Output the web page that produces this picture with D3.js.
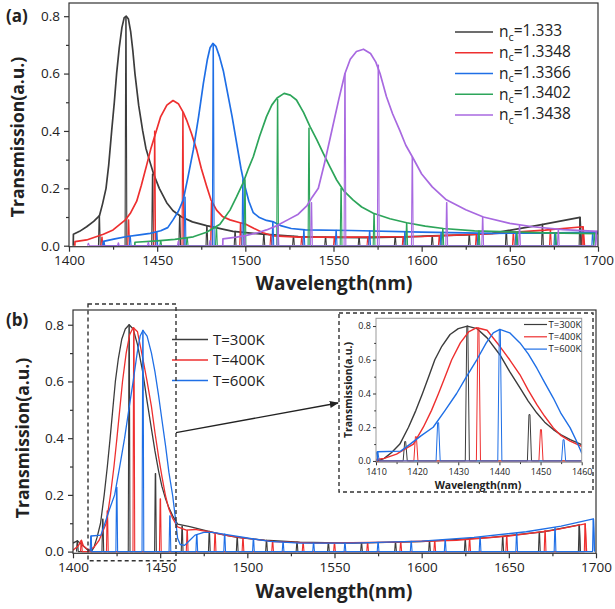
<!DOCTYPE html>
<html>
<head>
<meta charset="utf-8">
<script src="https://cdn.jsdelivr.net/npm/d3@7"></script>
<style>
  body { margin: 0; background: #fff; }
  svg text { font-family: "Open Sans", "Noto Sans", sans-serif; fill: #222; }
</style>
</head>
<body>
<svg id="chart" width="615" height="609"></svg>
<script>
// ---- panel (a) data: envelope [wavelength, T] and resonance spikes [wavelength, peak]
var nLabels = ["1.333", "1.3348", "1.3366", "1.3402", "1.3438"];
var colorsA = ["#3c3c3c", "#ee2f2f", "#1f6fe6", "#2da55a", "#a869e0"];

var envA1 = [[1402.4,0],[1402.5,0.04],[1406,0.05],[1410,0.066],[1414,0.085],[1417.3,0.105],[1419,0.145],[1421,0.2],[1422.5,0.28],[1424.2,0.4],[1425.7,0.5],[1427,0.6],[1428.5,0.69],[1430,0.76],[1431.3,0.795],[1432.5,0.8],[1433.7,0.79],[1435,0.745],[1436.2,0.68],[1437.4,0.6],[1439.5,0.49],[1441.8,0.4],[1443.6,0.34],[1445.5,0.3],[1448,0.25],[1451.2,0.2],[1455.4,0.15],[1459,0.122],[1463.9,0.1],[1470,0.083],[1478,0.07],[1493,0.05],[1510,0.04],[1530,0.032],[1550,0.029],[1570,0.028],[1590,0.031],[1610,0.035],[1625,0.038],[1640,0.043],[1665,0.07],[1689.8,0.099],[1690.6,0]];
var envA2 = [[1403.3,0],[1403.4,0.014],[1410,0.02],[1419.5,0.04],[1425,0.055],[1429,0.075],[1432,0.09],[1435,0.115],[1438.4,0.155],[1441,0.21],[1444,0.28],[1446.5,0.34],[1449.5,0.4],[1452,0.45],[1455.5,0.49],[1459,0.506],[1462,0.495],[1464.8,0.465],[1466.7,0.438],[1469.5,0.39],[1472.4,0.334],[1475,0.27],[1478.1,0.206],[1480.5,0.16],[1483.7,0.124],[1487,0.102],[1491.3,0.09],[1497,0.08],[1500,0.076],[1505,0.06],[1510,0.045],[1516,0.034],[1530,0.03],[1560,0.03],[1600,0.032],[1640,0.042],[1670,0.054],[1691.5,0.066],[1692.3,0]];
var envA3 = [[1419.3,0],[1419.5,0.015],[1426,0.024],[1433,0.032],[1440,0.038],[1446,0.043],[1452,0.052],[1456,0.063],[1459,0.09],[1462,0.12],[1464.8,0.16],[1467.5,0.24],[1470.5,0.334],[1473.5,0.45],[1476.2,0.566],[1478.5,0.65],[1480,0.69],[1481.6,0.705],[1483.3,0.695],[1485.3,0.66],[1487.5,0.61],[1490,0.53],[1492.5,0.45],[1495,0.36],[1497.5,0.27],[1499,0.225],[1502,0.155],[1504.5,0.115],[1508,0.098],[1512,0.088],[1516,0.083],[1520,0.07],[1526,0.06],[1534,0.055],[1560,0.053],[1600,0.047],[1640,0.043],[1670,0.044],[1700,0.047]];
var envA4 = [[1437.3,0],[1437.4,0.012],[1450,0.017],[1460,0.022],[1470.5,0.031],[1478,0.047],[1485.6,0.075],[1491.3,0.124],[1495,0.17],[1498.8,0.22],[1501.5,0.265],[1504.5,0.31],[1508,0.38],[1512,0.45],[1515,0.49],[1518,0.515],[1522,0.531],[1525.5,0.525],[1529,0.508],[1533,0.465],[1536.7,0.415],[1540.5,0.37],[1544.2,0.322],[1548,0.275],[1551.8,0.229],[1556,0.19],[1561.2,0.159],[1566,0.135],[1572.6,0.113],[1582,0.094],[1591.5,0.08],[1602,0.068],[1612.3,0.06],[1630,0.052],[1650,0.048],[1670,0.045],[1700,0.042]];
var envA5 = [[1487.2,0],[1487.3,0.024],[1495,0.03],[1500,0.035],[1507,0.045],[1512,0.055],[1518,0.07],[1524,0.09],[1530,0.11],[1535,0.14],[1538,0.17],[1541.4,0.2],[1545,0.29],[1549,0.4],[1553,0.51],[1556.5,0.6],[1559.5,0.65],[1563,0.677],[1567,0.685],[1571,0.67],[1574,0.64],[1576.4,0.6],[1580,0.52],[1583.5,0.46],[1587.7,0.4],[1591,0.35],[1594.7,0.31],[1600,0.25],[1606,0.205],[1614,0.16],[1625,0.125],[1635,0.1],[1650,0.078],[1663,0.066],[1680,0.056],[1700,0.05]];

var spkA1 = [[1417.2,0.105],[1432.3,0.8],[1447.4,0.25],[1462.8,0.104],[1478.2,0.07],[1494.2,0.05],[1510.5,0.04],[1527.3,0.033],[1545.5,0.029],[1564.5,0.028],[1585,0.03],[1606,0.034],[1627,0.039],[1648,0.053],[1668.5,0.075],[1689.8,0.099]];
var spkA2 = [[1418.7,0.03],[1433.8,0.09],[1448.6,0.4],[1464.6,0.465],[1480.8,0.15],[1497.3,0.08],[1514.5,0.035],[1532,0.03],[1550.5,0.03],[1569.5,0.03],[1589.5,0.031],[1610,0.034],[1631,0.038],[1652,0.045],[1673,0.055],[1691.5,0.066]];
var spkA3 = [[1419.8,0.015],[1434.7,0.033],[1449.8,0.047],[1465.8,0.17],[1481.8,0.705],[1498.6,0.23],[1515.6,0.083],[1533.2,0.055],[1551.5,0.054],[1570.5,0.052],[1590.5,0.049],[1611,0.046],[1632,0.044],[1653.5,0.043],[1675.5,0.044],[1697,0.047]];
var spkA4 = [[1452,0.017],[1467,0.028],[1483.6,0.065],[1499.8,0.23],[1518.3,0.51],[1536.1,0.41],[1554.3,0.2],[1573,0.112],[1591.5,0.08],[1612,0.06],[1632.5,0.052],[1654,0.047],[1676,0.044],[1698,0.042]];
var spkA5 = [[1411,0.008],[1428,0.01],[1445,0.012],[1462,0.015],[1480,0.018],[1499.5,0.035],[1518.5,0.07],[1537.5,0.15],[1556.5,0.6],[1575.4,0.63],[1594.7,0.31],[1614.2,0.15],[1634.6,0.1],[1655.5,0.07],[1677.5,0.056],[1699,0.05]];

// ---- panel (b) data
var tLabels = ["T=300K", "T=400K", "T=600K"];
var colorsB = ["#3c3c3c", "#ee2f2f", "#1f6fe6"];

var envB1 = [[1400,0.03],[1402.5,0.038],[1405,0.025],[1408,0.008],[1410.5,0],[1412,0.015],[1413.8,0.05],[1415.8,0.1],[1417.9,0.2],[1419.7,0.3],[1421.3,0.4],[1422.8,0.5],[1424.3,0.6],[1426,0.68],[1428,0.75],[1430,0.785],[1432.2,0.8],[1434.5,0.785],[1437,0.73],[1440.1,0.63],[1442.5,0.53],[1445,0.433],[1447,0.355],[1449.1,0.284],[1451,0.23],[1453.1,0.186],[1455,0.155],[1457.2,0.126],[1460,0.097],[1467,0.088],[1475,0.076],[1485,0.061],[1495,0.049],[1510,0.04],[1530,0.033],[1560,0.03],[1600,0.035],[1640,0.05],[1670,0.07],[1690.4,0.094],[1691,0]];
var envB2 = [[1400,0.005],[1403,0.02],[1404.8,0.04],[1406,0.02],[1409,0.005],[1412,0.015],[1415,0.04],[1417,0.07],[1419.1,0.1],[1421.5,0.2],[1423.5,0.3],[1425.2,0.4],[1426.8,0.5],[1428.4,0.6],[1430.5,0.7],[1432.5,0.765],[1434.5,0.79],[1437,0.775],[1440.1,0.68],[1442.5,0.6],[1445,0.511],[1447,0.42],[1449.1,0.334],[1451,0.265],[1453.1,0.196],[1455,0.15],[1457.2,0.117],[1460,0.087],[1465,0.076],[1470,0.078],[1478,0.07],[1490,0.055],[1500,0.047],[1515,0.035],[1540,0.03],[1580,0.033],[1620,0.04],[1650,0.055],[1675,0.075],[1693.8,0.098],[1694.6,0]];
var envB3 = [[1410.3,0],[1410.4,0.055],[1416,0.058],[1418.3,0.1],[1421,0.15],[1423.9,0.2],[1426.8,0.3],[1429.6,0.4],[1432,0.5],[1434.5,0.6],[1436.8,0.7],[1438.5,0.76],[1440.1,0.78],[1442.5,0.76],[1445,0.7],[1447,0.635],[1449.1,0.55],[1451,0.465],[1453.1,0.373],[1455,0.28],[1457.2,0.196],[1458.7,0.12],[1460,0.047],[1461.5,0.025],[1464,0.022],[1467,0.04],[1470,0.058],[1475,0.068],[1480,0.068],[1490,0.058],[1500,0.048],[1513,0.036],[1530,0.03],[1560,0.03],[1600,0.037],[1630,0.05],[1660,0.07],[1680,0.09],[1698.5,0.115],[1699.2,0]];

var spkB1 = [[1402.5,0.038],[1417.1,0.115],[1432.2,0.8],[1447.3,0.275],[1462.6,0.09],[1478.2,0.072],[1494.2,0.05],[1511,0.04],[1528.5,0.034],[1546.5,0.031],[1565.5,0.03],[1585,0.032],[1604.5,0.036],[1625,0.042],[1646.5,0.052],[1667.5,0.068],[1690.4,0.094]];
var spkB2 = [[1404.8,0.04],[1419.7,0.144],[1434.9,0.788],[1450.1,0.186],[1465.5,0.075],[1481.5,0.066],[1497.5,0.048],[1514.5,0.036],[1532,0.031],[1550,0.03],[1569,0.031],[1588,0.033],[1607.5,0.037],[1627.5,0.044],[1648.8,0.055],[1670.8,0.074],[1693.8,0.098]];
var spkB3 = [[1410.3,0.055],[1425.1,0.227],[1440.1,0.78],[1455.6,0.126],[1471,0.06],[1487,0.062],[1503.5,0.045],[1520.5,0.033],[1538,0.03],[1556,0.03],[1575,0.033],[1594,0.036],[1613.5,0.042],[1633.5,0.05],[1654.5,0.065],[1676.5,0.085],[1698.5,0.115]];

var xTicksMain = [1400, 1450, 1500, 1550, 1600, 1650, 1700];
var xMinorMain = [1425, 1475, 1525, 1575, 1625, 1675];
var yTicks = [0, 0.2, 0.4, 0.6, 0.8];
var yMinor = [0.1, 0.3, 0.5, 0.7];
var xTicksIns = [1410, 1420, 1430, 1440, 1450, 1460];
var xMinorIns = [1415, 1425, 1435, 1445, 1455];

var svg = d3.select('#chart');
svg.append('rect').attr('width', 615).attr('height', 609).attr('fill', '#fff');

function spikePts(spikes) {
  var pts = [];
  spikes.forEach(function(s) {
    pts.push([s[0] - 0.5, 0], [s[0] - 0.12, s[1]], [s[0] + 0.12, s[1]], [s[0] + 0.5, 0]);
  });
  return pts;
}

function drawPanel(o) {
  var x = o.x, y = o.y;
  var g = svg.append('g');
  var id = 'clip' + o.name;
  svg.append('clipPath').attr('id', id).append('rect')
    .attr('x', x.range()[0]).attr('y', y.range()[1])
    .attr('width', x.range()[1] - x.range()[0])
    .attr('height', y.range()[0] - y.range()[1]);
  var plot = g.append('g').attr('clip-path', 'url(#' + id + ')');
  var line = d3.line().x(function(d){ return x(d[0]); }).y(function(d){ return y(d[1]); });

  o.series.forEach(function(s) {
    plot.append('path').attr('d', line(spikePts(s.spk)))
      .attr('fill', 'none').attr('stroke', s.color).attr('stroke-width', o.spkW)
      .attr('stroke-linejoin', 'round');
    plot.append('path').attr('d', line(s.env))
      .attr('fill', 'none').attr('stroke', s.color).attr('stroke-width', o.envW)
      .attr('stroke-linejoin', 'round');
  });

  // frame
  g.append('rect').attr('x', x.range()[0]).attr('y', y.range()[1])
    .attr('width', x.range()[1] - x.range()[0])
    .attr('height', y.range()[0] - y.range()[1])
    .attr('fill', 'none').attr('stroke', o.frame).attr('stroke-width', o.frameW);

  g.append('g').attr('transform', 'translate(0,' + y.range()[0] + ')')
    .call(d3.axisBottom(x).tickValues(o.xt).tickSize(o.tk).tickPadding(o.xpad).tickFormat(d3.format('d')));
  g.append('g').attr('transform', 'translate(0,' + y.range()[0] + ')')
    .call(d3.axisBottom(x).tickValues(o.xm).tickSize(o.tk * 0.6).tickFormat(''));
  g.append('g').attr('transform', 'translate(' + x.range()[0] + ',0)')
    .call(d3.axisLeft(y).tickValues(yTicks).tickSize(o.tk).tickPadding(o.pad).tickFormat(d3.format('.1f')));
  g.append('g').attr('transform', 'translate(' + x.range()[0] + ',0)')
    .call(d3.axisLeft(y).tickValues(yMinor).tickSize(o.tk * 0.6).tickFormat(''));
  g.selectAll('.domain').remove();
  g.selectAll('.tick line').attr('stroke', '#333').attr('stroke-width', o.frameW);
  g.selectAll('.tick text').style('font-size', o.fs + 'px').attr('fill', '#333');
  return g;
}

function legend(items, x0, x1, tx, y0, dy, fs, sw, sub) {
  var lg = svg.append('g');
  items.forEach(function(it, i) {
    var yy = y0 + i * dy;
    lg.append('line').attr('x1', x0).attr('x2', x1).attr('y1', yy).attr('y2', yy)
      .attr('stroke', it.color).attr('stroke-width', sw);
    var t = lg.append('text').attr('x', tx).attr('y', yy).attr('dy', '0.35em')
      .style('font-size', fs + 'px');
    if (sub) {
      t.append('tspan').text('n');
      t.append('tspan').text('c').attr('dy', '0.3em').style('font-size', (fs * 0.7) + 'px');
      t.append('tspan').text('=' + it.label).attr('dy', '-0.3em');
    } else {
      t.text(it.label);
    }
  });
}

// ---- panel (a)
var xA = d3.scaleLinear().domain([1400, 1700]).range([69, 598]);
var yA = d3.scaleLinear().domain([-0.0035, 0.846]).range([246.7, 3]);
var envA = [envA1, envA2, envA3, envA4, envA5];
var spkA = [spkA1, spkA2, spkA3, spkA4, spkA5];
drawPanel({
  name: 'a', x: xA, y: yA, xt: xTicksMain, xm: xMinorMain, tk: 5, pad: 4, xpad: 4, fs: 13.5,
  frame: '#333', frameW: 1.2, envW: 1.7, spkW: 1.1,
  series: envA.map(function(e, i){ return {env: e, spk: spkA[i], color: colorsA[i]}; })
});
legend(nLabels.map(function(l, i){ return {label: l, color: colorsA[i]}; }),
  455, 493, 499, 32, 20.75, 15.5, 1.5, true);

// ---- panel (b)
var xB = d3.scaleLinear().domain([1400, 1700]).range([73, 596]);
var yB = d3.scaleLinear().domain([-0.006, 0.852]).range([553.3, 310]);
var envB = [envB1, envB2, envB3];
var spkB = [spkB1, spkB2, spkB3];
var seriesB = envB.map(function(e, i){ return {env: e, spk: spkB[i], color: colorsB[i]}; });
drawPanel({
  name: 'b', x: xB, y: yB, xt: xTicksMain, xm: xMinorMain, tk: 5, pad: 4, xpad: 4, fs: 13.5,
  frame: '#333', frameW: 1.2, envW: 1.3, spkW: 1.1, series: seriesB
});
legend(tLabels.map(function(l, i){ return {label: l, color: colorsB[i]}; }),
  172, 208, 213, 339.5, 20.5, 15, 1.3, false);

// ---- inset
var xI = d3.scaleLinear().domain([1410, 1460]).range([376, 581.7]);
var yI = d3.scaleLinear().domain([-0.008, 0.846]).range([462.3, 318.3]);
svg.append('rect').attr('x', 339).attr('y', 313).attr('width', 254).attr('height', 179)
  .attr('fill', '#fff');
drawPanel({
  name: 'i', x: xI, y: yI, xt: xTicksIns, xm: xMinorIns, tk: 3, pad: 2, xpad: 3, fs: 9,
  frame: '#999', frameW: 1, envW: 1.4, spkW: 1, series: seriesB
});
legend(tLabels.map(function(l, i){ return {label: l, color: colorsB[i]}; }),
  524, 547, 548.5, 324.5, 12.3, 9.5, 1.2, false);

// dashed boxes and arrow
svg.append('rect').attr('x', 88).attr('y', 304).attr('width', 88).attr('height', 256.7)
  .attr('fill', 'none').attr('stroke', '#333').attr('stroke-width', 1.4).attr('stroke-dasharray', '4,3');
svg.append('rect').attr('x', 339).attr('y', 313).attr('width', 254).attr('height', 179)
  .attr('fill', 'none').attr('stroke', '#333').attr('stroke-width', 1.4).attr('stroke-dasharray', '4,3');
svg.append('defs').append('marker').attr('id', 'arr').attr('viewBox', '0 0 10 10')
  .attr('refX', 9).attr('refY', 5).attr('markerWidth', 7).attr('markerHeight', 7)
  .attr('orient', 'auto').append('path').attr('d', 'M0,1L10,5L0,9Z').attr('fill', '#222');
svg.append('line').attr('x1', 176).attr('y1', 432.7).attr('x2', 338).attr('y2', 403)
  .attr('stroke', '#222').attr('stroke-width', 1.3).attr('marker-end', 'url(#arr)');

// titles
function title(txt, x, y, fs, rot) {
  var t = svg.append('text').text(txt).attr('text-anchor', 'middle')
    .style('font-size', fs + 'px').style('font-weight', 'bold');
  if (rot) t.attr('transform', 'translate(' + x + ',' + y + ') rotate(-90)');
  else t.attr('x', x).attr('y', y);
}
title('Wavelength(nm)', 334, 290, 19, false);
title('Transmission(a.u.)', 24, 137, 17.5, true);
title('Wavelength(nm)', 334, 598, 19, false);
title('Transmission(a.u.)', 29, 438, 17.5, true);
title('Wavelength(nm)', 478, 488.5, 10.5, false);
title('Transmission(a.u.)', 352, 390, 10.5, true);
svg.append('text').text('(a)').attr('x', 6).attr('y', 22).style('font-size', '17px').style('font-weight', 'bold');
svg.append('text').text('(b)').attr('x', 6).attr('y', 326).style('font-size', '17px').style('font-weight', 'bold');
</script>
</body>
</html>
